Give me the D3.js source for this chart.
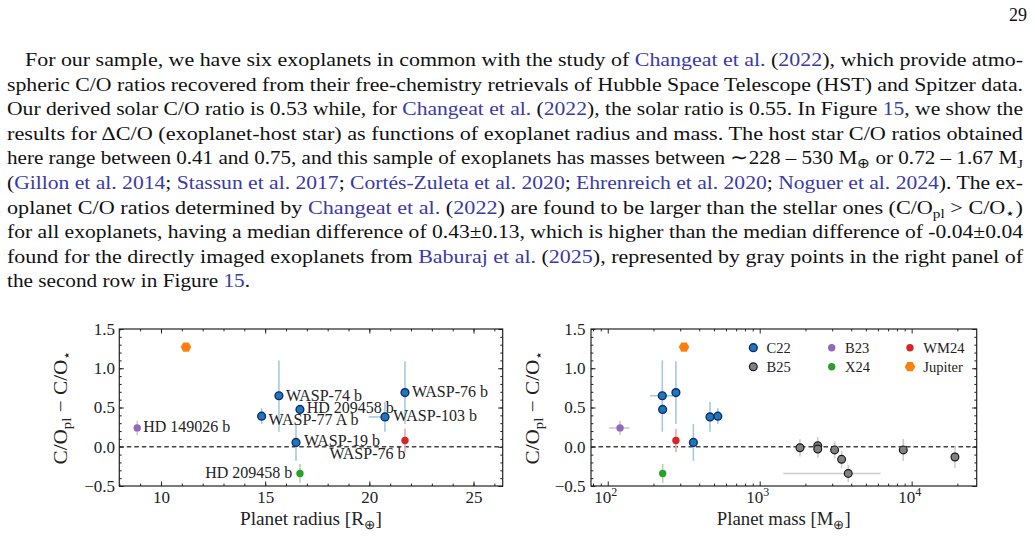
<!DOCTYPE html>
<html><head><meta charset="utf-8">
<script src="https://cdn.jsdelivr.net/npm/d3@7"></script>
<style>body{margin:0;background:#fff}svg{display:block}</style>
</head><body>
<svg id="c" width="1035" height="546"></svg>
<script>
// ---------------- data ----------------
// C22 (Changeat et al. 2022)
const c22Names   = ["WASP-74 b","WASP-77 A b","HD 209458 b","WASP-19 b","WASP-103 b","WASP-76 b"];
const c22Radius  = [15.66, 14.83, 16.67, 16.48, 20.75, 21.71];
const c22RadErrLo = [0, 0, 0, 0, 0.78, 0];
const c22RadErrHi = [0, 0, 0, 0, 0.10, 0];
const c22Mass    = [228.6, 530, 229.8, 366, 471, 281];
const c22MassErrLo = [38.6, 0, 0, 0, 0, 0];
const c22MassErrHi = [40.4, 0, 0, 0, 0, 0];
const c22dCO     = [0.65, 0.39, 0.475, 0.055, 0.38, 0.69];
const c22dCOErrLo = [0.46, 0.10, 0.03, 0.235, 0.19, 0.40];
const c22dCOErrHi = [0.45, 0.10, 0.03, 0.235, 0.19, 0.40];
// B23
const b23Names = ["HD 149026 b"];
const b23Radius = [8.86];
const b23Mass = [120.5];
const b23MassErr = [18.5];
const b23dCO = [0.24];
const b23dCOErr = [0.09];
// WM24
const wm24Names = ["WASP-76 b"];
const wm24Radius = [21.71];
const wm24Mass = [281];
const wm24dCO = [0.08];
const wm24dCOErr = [0.15];
// X24
const x24Names = ["HD 209458 b"];
const x24Radius = [16.67];
const x24Mass = [230];
const x24dCO = [-0.34];
const x24dCOErr = [0.12];
// Jupiter
const jupRadius = [11.2];
const jupMass = [317.8];
const jupdCO = [1.27];
// B25 (Baburaj et al. 2025), mass panel only
const b25Mass = [1841, 2410, 2410, 3112, 3460, 3826, 8810, 19270];
const b25MassErrLo = [0, 0, 0, 0, 0, 2397, 0, 0];
const b25MassErrHi = [0, 0, 0, 0, 0, 2424, 0, 0];
const b25dCO = [-0.013, 0.013, -0.03, -0.04, -0.16, -0.34, -0.04, -0.13];
const b25dCOErr = [0.11, 0.11, 0.11, 0.11, 0.11, 0.11, 0.14, 0.14];
// ticks
const radiusTicks = [10, 15, 20, 25];
const massTicks = [100, 1000, 10000];
const massTickExp = ["2", "3", "4"];
const dcoTicks = [-0.5, 0, 0.5, 1.0, 1.5];
const legendLabels = ["C22", "B25", "B23", "X24", "WM24", "Jupiter"];

// ---------------- drawing ----------------
const svg = d3.select("#c");
svg.append("rect").attr("width", 1035).attr("height", 546).attr("fill", "#fff");
const SERIF = "'Liberation Serif','Times New Roman',serif";
const LINK = "#3a3aa8";

// page number
svg.append("text").attr("x", 1027).attr("y", 21).attr("text-anchor", "end")
  .attr("font-family", SERIF).attr("font-size", 18).attr("fill", "#111").text("29");

// body text: segments [text, kind] kind 0=normal 1=link 2=subscript
const bodyLines = [
  [["For our sample, we have six exoplanets in common with the study of ",0],["Changeat et al.",1],[" (",0],["2022",1],["), which provide atmo-",0]],
  [["spheric C/O ratios recovered from their free-chemistry retrievals of Hubble Space Telescope (HST) and Spitzer data.",0]],
  [["Our derived solar C/O ratio is 0.53 while, for ",0],["Changeat et al.",1],[" (",0],["2022",1],["), the solar ratio is 0.55. In Figure ",0],["15",1],[", we show the",0]],
  [["results for \u2206C/O (exoplanet-host star) as functions of exoplanet radius and mass. The host star C/O ratios obtained",0]],
  [["here range between 0.41 and 0.75, and this sample of exoplanets has masses between \u223c228 \u2013 530 M",0],["\u2295",2],[" or 0.72 \u2013 1.67 M",0],["J",2]],
  [["(",0],["Gillon et al. 2014",1],["; ",0],["Stassun et al. 2017",1],["; ",0],["Cort\u00e9s-Zuleta et al. 2020",1],["; ",0],["Ehrenreich et al. 2020",1],["; ",0],["Noguer et al. 2024",1],["). The ex-",0]],
  [["oplanet C/O ratios determined by ",0],["Changeat et al.",1],[" (",0],["2022",1],[") are found to be larger than the stellar ones (C/O",0],["pl",2],[" > C/O",0],["\u22c6",2],[")",0]],
  [["for all exoplanets, having a median difference of 0.43\u00b10.13, which is higher than the median difference of -0.04\u00b10.04",0]],
  [["found for the directly imaged exoplanets from ",0],["Baburaj et al.",1],[" (",0],["2025",1],["), represented by gray points in the right panel of",0]],
  [["the second row in Figure ",0],["15",1],[".",0]]
];
const lineX = [25,7,7,7,7,7,7,7,7,7];
const lineEnd = [1023,1023,1023,1023,1023,1023,1023,1023,1023,250];
bodyLines.forEach((segs, i) => {
  const t = svg.append("text").attr("x", lineX[i]).attr("y", 66 + i * 24.6)
    .attr("font-family", SERIF).attr("font-size", 19.5).attr("fill", "#111")
    .attr("textLength", lineEnd[i] - lineX[i]).attr("lengthAdjust", "spacingAndGlyphs");
  let shifted = false;
  segs.forEach(([s, k]) => {
    const ts = t.append("tspan").text(s);
    if (k === 1) ts.attr("fill", LINK);
    if (k === 2) { ts.attr("font-size", 13.5).attr("dy", 4); shifted = true; }
    else if (shifted) { ts.attr("dy", -4); shifted = false; }
  });
});

// ---------- panels ----------
const yTop = 329, yBot = 486;
const y = d3.scaleLinear().domain([-0.5, 1.5]).range([yBot, yTop]);
const xR = d3.scaleLinear().domain([8, 26.4]).range([119.3, 502.7]);
const xM = d3.scaleLog().domain([77.6, 26800]).range([591, 976.7]);

const colors = {c22: "#1f77b4", b23: "#9467bd", wm24: "#d62728", x24: "#2ca02c", jup: "#ff7f0e", b25: "#808080"};
const errCol = {c22: "#a5c9e2", b23: "#d4c2e5", wm24: "#eea8a9", x24: "#aad9aa", b25: "#cccccc"};

function frameAndAxes(g, x, xMinor, isLog) {
  const [x0, x1] = x.range();
  const minorY = d3.range(-0.5, 1.5001, 0.1);
  const tk = (sel) => { sel.select(".domain").remove(); sel.selectAll("line").attr("stroke", "#222").attr("stroke-width", 1); };
  // bottom
  const bAx = d3.axisBottom(x).tickValues(isLog ? massTicks : radiusTicks).tickSize(-4.5).tickPadding(5.2);
  if (isLog) bAx.tickFormat(() => ""); else bAx.tickFormat(d3.format("d"));
  g.append("g").attr("transform", `translate(0,${yBot})`).call(bAx).call(tk)
    .attr("font-family", SERIF).attr("font-size", 17).selectAll("text").attr("fill", "#222");
  g.append("g").attr("transform", `translate(0,${yBot})`).call(d3.axisBottom(x).tickValues(xMinor).tickSize(-2.4).tickFormat(() => "")).call(tk);
  // top
  g.append("g").attr("transform", `translate(0,${yTop})`).call(d3.axisTop(x).tickValues(isLog ? massTicks : radiusTicks).tickSize(-4.5).tickFormat(() => "")).call(tk);
  g.append("g").attr("transform", `translate(0,${yTop})`).call(d3.axisTop(x).tickValues(xMinor).tickSize(-2.4).tickFormat(() => "")).call(tk);
  // left
  g.append("g").attr("transform", `translate(${x0},0)`).call(d3.axisLeft(y).tickValues(dcoTicks).tickSize(-4.5).tickPadding(isLog ? 5.5 : 4.3).tickFormat(d3.format(".1f"))).call(tk)
    .attr("font-family", SERIF).attr("font-size", 17).selectAll("text").attr("fill", "#222");
  g.append("g").attr("transform", `translate(${x0},0)`).call(d3.axisLeft(y).tickValues(minorY).tickSize(-2.4).tickFormat(() => "")).call(tk);
  // right
  g.append("g").attr("transform", `translate(${x1},0)`).call(d3.axisRight(y).tickValues(dcoTicks).tickSize(-4.5).tickFormat(() => "")).call(tk);
  g.append("g").attr("transform", `translate(${x1},0)`).call(d3.axisRight(y).tickValues(minorY).tickSize(-2.4).tickFormat(() => "")).call(tk);
  // zero line
  g.append("line").attr("x1", x0).attr("x2", x1).attr("y1", y(0)).attr("y2", y(0))
    .attr("stroke", "#444").attr("stroke-width", 1.3).attr("stroke-dasharray", "4.5,3");
  // frame
  g.append("rect").attr("x", x0).attr("y", yTop).attr("width", x1 - x0).attr("height", yBot - yTop)
    .attr("fill", "none").attr("stroke", "#222").attr("stroke-width", 1.2);
  // y label
  const yl = g.append("text").attr("transform", `translate(${x0 - 52},${(yTop + yBot) / 2}) rotate(-90)`)
    .attr("text-anchor", "middle").attr("font-family", SERIF).attr("font-size", 18.5).attr("fill", "#222")
    .attr("textLength", 114).attr("lengthAdjust", "spacingAndGlyphs");
  yl.append("tspan").text("C/O");
  yl.append("tspan").attr("font-size", 13).attr("dy", 4).text("pl");
  yl.append("tspan").attr("dy", -4).text(" \u2212 C/O");
  yl.append("tspan").attr("font-size", 13).attr("dy", 4).text("\u22c6");
}

function xLabel(g, x, main, sub, len) {
  const [x0, x1] = x.range();
  const t = g.append("text").attr("x", (x0 + x1) / 2).attr("y", 525).attr("text-anchor", "middle")
    .attr("font-family", SERIF).attr("font-size", 18.5).attr("fill", "#222")
    .attr("textLength", len).attr("lengthAdjust", "spacingAndGlyphs");
  t.append("tspan").text(main);
  t.append("tspan").attr("font-size", 13).attr("dy", 4).text(sub);
  t.append("tspan").attr("dy", -4).text("]");
}

function hexPath(cx, cy, r) {
  return "M" + d3.range(6).map(i => [cx + r * Math.cos(i * Math.PI / 3), cy + r * Math.sin(i * Math.PI / 3)].join(",")).join("L") + "Z";
}

function errV(g, xp, v, lo, hi, col) {
  if (lo + hi === 0) return;
  g.append("line").attr("x1", xp).attr("x2", xp).attr("y1", y(v - lo)).attr("y2", y(v + hi))
    .attr("stroke", col).attr("stroke-width", 1.6);
}
function errH(g, x, xv, v, lo, hi, col) {
  if (lo + hi === 0) return;
  g.append("line").attr("x1", x(xv - lo)).attr("x2", x(xv + hi)).attr("y1", y(v)).attr("y2", y(v))
    .attr("stroke", col).attr("stroke-width", 1.6);
}
function dot(g, cx, cy, key) {
  if (key === "jup") {
    g.append("path").attr("d", hexPath(cx, cy, 5.3)).attr("fill", colors.jup);
  } else if (key === "c22") {
    g.append("circle").attr("cx", cx).attr("cy", cy).attr("r", 3.9).attr("fill", colors.c22).attr("stroke", "#0c2c78").attr("stroke-width", 1.4);
  } else if (key === "b25") {
    g.append("circle").attr("cx", cx).attr("cy", cy).attr("r", 3.9).attr("fill", colors.b25).attr("stroke", "#1a1a1a").attr("stroke-width", 1.2);
  } else {
    g.append("circle").attr("cx", cx).attr("cy", cy).attr("r", 3.7).attr("fill", colors[key]);
  }
}

// ---------- left panel: radius ----------
const gL = svg.append("g");
frameAndAxes(gL, xR, d3.range(8, 27, 1), false);
xLabel(gL, xR, "Planet radius [R", "\u2295", 142);
const eL = gL.append("g"), mL = gL.append("g"), tL = gL.append("g");
c22Names.forEach((n, i) => {
  errV(eL, xR(c22Radius[i]), c22dCO[i], c22dCOErrLo[i], c22dCOErrHi[i], errCol.c22);
  errH(eL, xR, c22Radius[i], c22dCO[i], c22RadErrLo[i], c22RadErrHi[i], errCol.c22);
});
errV(eL, xR(b23Radius[0]), b23dCO[0], b23dCOErr[0], b23dCOErr[0], errCol.b23);
errV(eL, xR(wm24Radius[0]), wm24dCO[0], wm24dCOErr[0], wm24dCOErr[0], errCol.wm24);
errV(eL, xR(x24Radius[0]), x24dCO[0], x24dCOErr[0], x24dCOErr[0], errCol.x24);
dot(mL, xR(jupRadius[0]), y(jupdCO[0]), "jup");
dot(mL, xR(b23Radius[0]), y(b23dCO[0]), "b23");
dot(mL, xR(wm24Radius[0]), y(wm24dCO[0]), "wm24");
dot(mL, xR(x24Radius[0]), y(x24dCO[0]), "x24");
c22Names.forEach((n, i) => dot(mL, xR(c22Radius[i]), y(c22dCO[i]), "c22"));

// label placement (layout only): [dx, dy, anchor]
const labelLayout = {
  "c22:WASP-74 b": [7, 5.2, "start"],
  "c22:WASP-77 A b": [7, 8.6, "start"],
  "c22:HD 209458 b": [6.7, 3.6, "start"],
  "c22:WASP-19 b": [8, 3.2, "start"],
  "c22:WASP-103 b": [8, 4.5, "start"],
  "c22:WASP-76 b": [7, 4.8, "start"],
  "b23:HD 149026 b": [6, 4.2, "start"],
  "wm24:WASP-76 b": [0.5, 18.3, "end"],
  "x24:HD 209458 b": [-7.7, 5, "end"]
};
function label(key, name, xv, yv) {
  const [dx, dy, anc] = labelLayout[key + ":" + name];
  tL.append("text").attr("x", xR(xv) + dx).attr("y", y(yv) + dy).attr("text-anchor", anc)
    .attr("font-family", SERIF).attr("font-size", 16).attr("fill", "#222").text(name);
}
c22Names.forEach((n, i) => label("c22", n, c22Radius[i], c22dCO[i]));
label("b23", b23Names[0], b23Radius[0], b23dCO[0]);
label("wm24", wm24Names[0], wm24Radius[0], wm24dCO[0]);
label("x24", x24Names[0], x24Radius[0], x24dCO[0]);

// ---------- right panel: mass ----------
const gR = svg.append("g");
const massMinor = [];
[10, 100, 1000, 10000].forEach(b => d3.range(2, 10).forEach(m => { const v = m * b; if (v > 77.6 && v < 26800) massMinor.push(v); }));
frameAndAxes(gR, xM, massMinor, true);
xLabel(gR, xM, "Planet mass [M", "\u2295", 134);
// log tick labels
massTicks.forEach((v, i) => {
  const t = gR.append("text").attr("x", xM(v) - 2).attr("y", 503.3).attr("text-anchor", "middle")
    .attr("font-family", SERIF).attr("font-size", 17).attr("fill", "#222");
  t.append("tspan").text("10");
  t.append("tspan").attr("font-size", 12).attr("dy", -7).text(massTickExp[i]);
});
const eR = gR.append("g"), mR = gR.append("g");
c22Names.forEach((n, i) => {
  errV(eR, xM(c22Mass[i]), c22dCO[i], c22dCOErrLo[i], c22dCOErrHi[i], errCol.c22);
  errH(eR, xM, c22Mass[i], c22dCO[i], c22MassErrLo[i], c22MassErrHi[i], errCol.c22);
});
errV(eR, xM(b23Mass[0]), b23dCO[0], b23dCOErr[0], b23dCOErr[0], errCol.b23);
errH(eR, xM, b23Mass[0], b23dCO[0], b23MassErr[0], b23MassErr[0], errCol.b23);
errV(eR, xM(wm24Mass[0]), wm24dCO[0], wm24dCOErr[0], wm24dCOErr[0], errCol.wm24);
errV(eR, xM(x24Mass[0]), x24dCO[0], x24dCOErr[0], x24dCOErr[0], errCol.x24);
b25Mass.forEach((m, i) => {
  errV(eR, xM(m), b25dCO[i], b25dCOErr[i], b25dCOErr[i], errCol.b25);
  errH(eR, xM, m, b25dCO[i], b25MassErrLo[i], b25MassErrHi[i], errCol.b25);
});
dot(mR, xM(jupMass[0]), y(jupdCO[0]), "jup");
dot(mR, xM(b23Mass[0]), y(b23dCO[0]), "b23");
dot(mR, xM(wm24Mass[0]), y(wm24dCO[0]), "wm24");
dot(mR, xM(x24Mass[0]), y(x24dCO[0]), "x24");
c22Names.forEach((n, i) => dot(mR, xM(c22Mass[i]), y(c22dCO[i]), "c22"));
b25Mass.forEach((m, i) => dot(mR, xM(m), y(b25dCO[i]), "b25"));

// legend (3 columns x 2 rows)
const legKeys = ["c22", "b25", "b23", "x24", "wm24", "jup"];
const legCols = [753.3, 831.7, 910];
const legRows = [347.7, 366.7];
legKeys.forEach((k, i) => {
  const cx = legCols[Math.floor(i / 2)], cy = legRows[i % 2];
  dot(gR, cx, cy, k);
  gR.append("text").attr("x", cx + 13.3).attr("y", cy + 5).attr("font-family", SERIF)
    .attr("font-size", 14.5).attr("fill", "#222").text(legendLabels[i]);
});
</script>
</body></html>
